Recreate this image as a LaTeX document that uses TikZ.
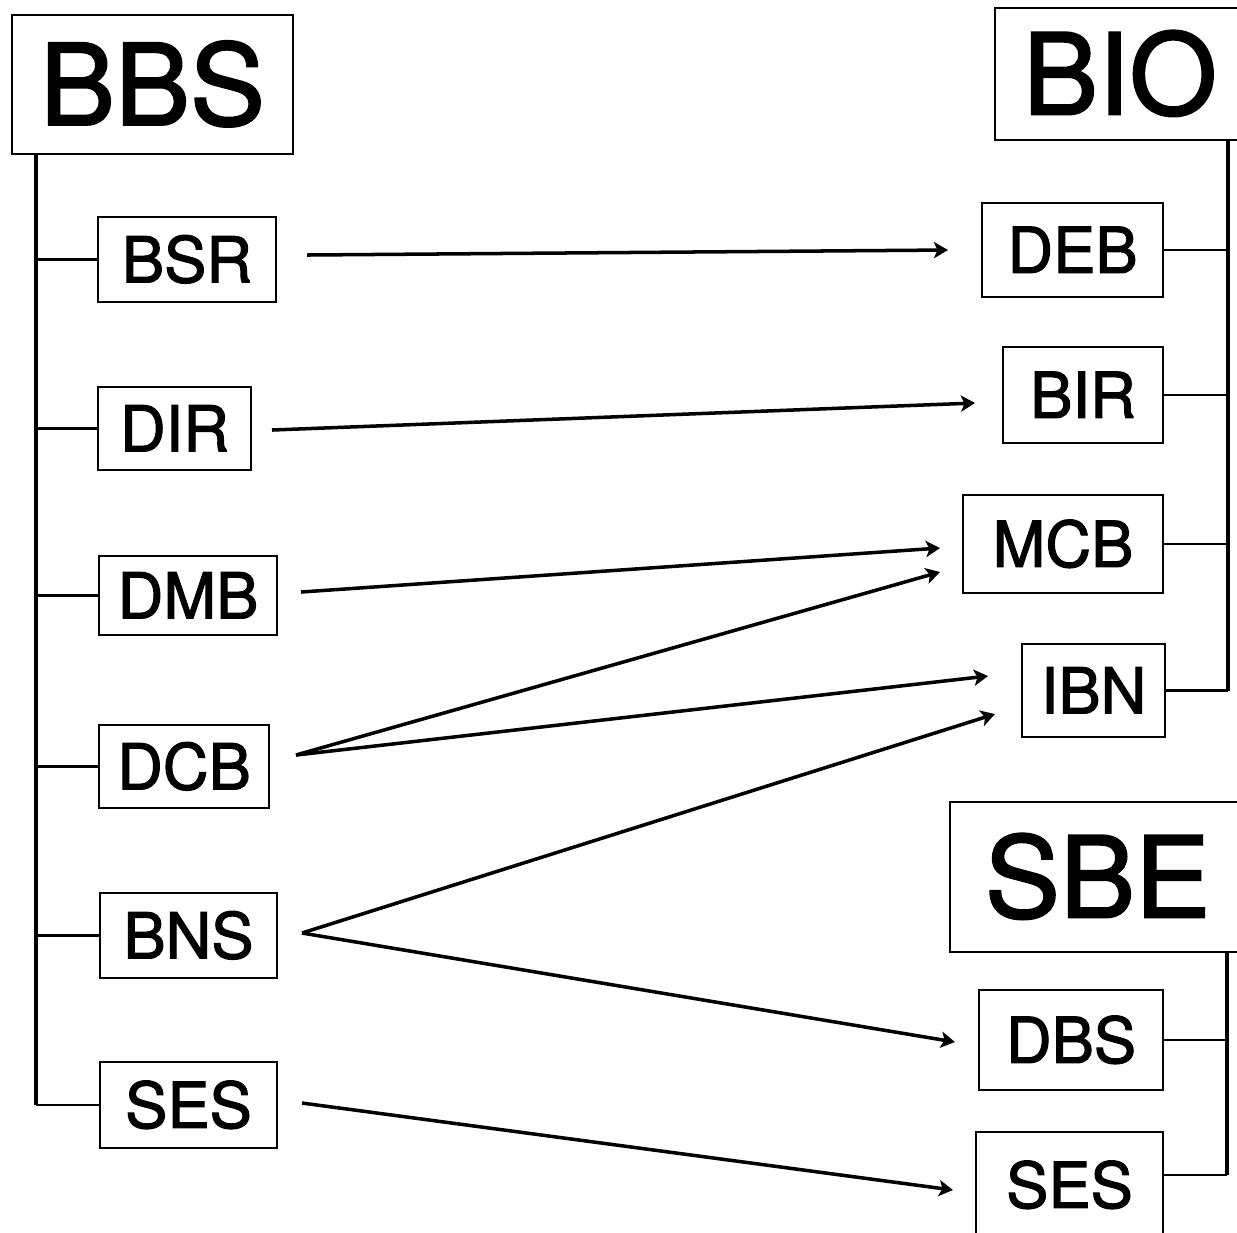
\documentclass[tikz,border=0pt]{standalone}
\usepackage{fontspec}
\setmainfont{TeX Gyre Heros}
\newfontfamily\labelfont{TeX Gyre Heros}[FakeBold=1.8]
\usetikzlibrary{arrows.meta}

\tikzset{
  unit/.style={draw, line width=0.7pt, inner sep=0pt, font=\labelfont\fontsize{18}{18}\selectfont, text height=13pt, text depth=0pt},
  school/.style={draw, line width=0.7pt, inner sep=0pt, font=\labelfont\fontsize{32}{32}\selectfont, text height=23pt, text depth=0pt},
  link/.style={->, line width=1pt},
  tree/.style={line width=0.9pt}
}

\begin{document}
\begin{tikzpicture}[x=0.01cm, y=-0.01cm, >={Stealth[length=4pt, width=4.6pt, inset=1pt]}]
\useasboundingbox (0,0) rectangle (1237,1232);
\clip (0,0) rectangle (1237,1232);

% linke Seite
\node[school, minimum width=2.81cm, minimum height=1.39cm] (bbs) at (152.5,84.5) {BBS};
\node[unit, minimum width=1.78cm, minimum height=0.85cm] (bsr) at (187,259.5) {BSR};
\node[unit, minimum width=1.53cm, minimum height=0.83cm] (dir) at (174.5,428.5) {DIR};
\node[unit, minimum width=1.78cm, minimum height=0.79cm] (dmb) at (188,595.5) {DMB};
\node[unit, minimum width=1.70cm, minimum height=0.83cm] (dcb) at (184,766.5) {DCB};
\node[unit, minimum width=1.77cm, minimum height=0.85cm] (bns) at (188.5,935.5) {BNS};
\node[unit, minimum width=1.77cm, minimum height=0.86cm] (sesl) at (188.5,1105) {SES};

\coordinate (spine) at (36,154);
\draw[tree] (spine) -- (spine |- sesl.west);
\foreach \n in {bsr, dir, dmb, dcb, bns, sesl}{
	\draw[line width=0.7pt] (\n.west -| spine) -- (\n.west);
}

% rechte Seite
\node[school, minimum width=2.50cm, minimum height=1.32cm] (bio) at (1120,74) {BIO};
\node[unit, minimum width=1.81cm, minimum height=0.94cm] (deb) at (1072.5,250) {DEB};
\node[unit, minimum width=1.60cm, minimum height=0.96cm] (bir) at (1083,395) {BIR};
\node[unit, minimum width=2.00cm, minimum height=0.98cm] (mcb) at (1063,544) {MCB};
\node[unit, minimum width=1.43cm, minimum height=0.93cm] (ibn) at (1093.5,690.5) {IBN};

\coordinate (rspine) at (1228,140);
\draw[tree] (rspine) -- (rspine |- ibn.east);
\foreach \n in {deb, bir, mcb, ibn}{
	\draw[line width=0.7pt] (\n.east) -- (\n.east -| rspine);
}

\node[school, minimum width=2.95cm, minimum height=1.50cm] (sbe) at (1097.5,877) {SBE};
\node[unit, minimum width=1.84cm, minimum height=1.00cm] (dbs) at (1071,1040) {DBS};
\node[unit, minimum width=1.87cm, minimum height=1.06cm] (sesr) at (1069.5,1185) {SES};

\coordinate (sspine) at (1227,952);
\coordinate (sesr-link) at ([yshift=0.1cm]sesr.east);
\draw[tree] (sspine) -- (sspine |- sesr-link);
\draw[line width=0.7pt] (dbs.east) -- (dbs.east -| sspine);
\draw[line width=0.7pt] (sesr-link) -- (sesr-link -| sspine);

% Pfeile
\coordinate (bsr-out) at (307,255);
\coordinate (dir-out) at (272,430);
\coordinate (dmb-out) at (301,592);
\coordinate (dcb-out) at (296,755);
\coordinate (bns-out) at (302,933);
\coordinate (sesl-out) at (302,1103);
\coordinate (deb-in) at (948,250);
\coordinate (bir-in) at (975,403);
\coordinate (mcb-in1) at (940,548);
\coordinate (mcb-in2) at (940,572);
\coordinate (ibn-in1) at (988,676);
\coordinate (ibn-in2) at (995,714);
\coordinate (dbs-in) at (955,1042);
\coordinate (sesr-in) at (953,1190);

\draw[link] (bsr-out) -- (deb-in);
\draw[link] (dir-out) -- (bir-in);
\draw[link] (dmb-out) -- (mcb-in1);
\draw[link] (dcb-out) -- (mcb-in2);
\draw[link] (dcb-out) -- (ibn-in1);
\draw[link] (bns-out) -- (ibn-in2);
\draw[link] (bns-out) -- (dbs-in);
\draw[link] (sesl-out) -- (sesr-in);
\end{tikzpicture}
\end{document}
